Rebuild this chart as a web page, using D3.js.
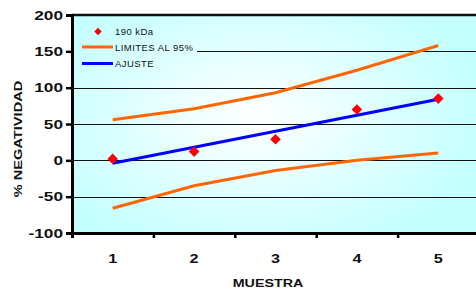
<!DOCTYPE html>
<html><head><meta charset="utf-8">
<script src="https://cdn.jsdelivr.net/npm/d3@7"></script>
<style>html,body{margin:0;padding:0;background:#fff;overflow:hidden}svg{display:block}</style>
</head><body>
<script>
const categories = ["1","2","3","4","5"];
const kda190 = [2, 12, 29, 70, 85];
const ajuste = [-4, 18, 40, 62, 84];
const limSup = [56, 71, 93, 124, 158];
const limInf = [-66, -35, -14, 0, 10];
const yTicks = [-100, -50, 0, 50, 100, 150, 200];
const legendLabels = ["190 kDa", "LIMITES AL 95%", "AJUSTE"];

const W = 476, H = 293;
const L = 72, T = 15, R = 479, B = 233;
const svg = d3.select("body").append("svg").attr("width", W).attr("height", H);

const defs = svg.append("defs");
const g = defs.append("radialGradient").attr("id","bg")
  .attr("gradientUnits","userSpaceOnUse")
  .attr("cx", 255).attr("cy", 118).attr("r", 230)
  .attr("gradientTransform","translate(255,118) scale(1,0.62) translate(-255,-118)");
g.append("stop").attr("offset","0%").attr("stop-color","#ffffff");
g.append("stop").attr("offset","100%").attr("stop-color","#c4ffff");

const x = d3.scaleBand().domain(categories).range([L, R]).padding(0);
const y = d3.scaleLinear().domain([-100, 200]).range([B, T]);
const cx = c => x(c) + x.bandwidth()/2;

svg.append("rect").attr("x", L).attr("y", T).attr("width", R-L).attr("height", B-T).attr("fill","url(#bg)");

// gridlines
svg.append("g").selectAll("line").data(yTicks.filter(v => v > -100 && v < 200)).join("line")
  .attr("x1", L).attr("x2", R).attr("y1", d => Math.round(y(d))+0.5).attr("y2", d => Math.round(y(d))+0.5)
  .attr("stroke", "#111").attr("stroke-width", 1);

// legend box (covers gridline)
svg.append("rect").attr("x", L+2).attr("y", 21).attr("width", 123).attr("height", 50).attr("fill","url(#bg)");

// top border
svg.append("line").attr("x1", L).attr("x2", R).attr("y1", T).attr("y2", T).attr("stroke","#111").attr("stroke-width",2.5);

// axes
const yAxis = d3.axisLeft(y).tickValues(yTicks).tickSize(6).tickFormat("");
const ya = svg.append("g").attr("transform", `translate(${L},0)`).call(yAxis);
ya.select(".domain").attr("stroke","#000").attr("stroke-width",3);
ya.selectAll(".tick line").attr("stroke","#000").attr("stroke-width",2.5);

const xAxis = d3.axisBottom(d3.scaleLinear().domain([0,5]).range([L,R])).tickValues([0,1,2,3,4,5]).tickSize(5).tickFormat("");
const xa = svg.append("g").attr("transform", `translate(0,${B})`).call(xAxis);
xa.select(".domain").attr("stroke","#000").attr("stroke-width",3);
xa.selectAll(".tick line").attr("stroke","#000").attr("stroke-width",2.5);

// tick labels
const font = "'Liberation Sans', Arial, sans-serif";
svg.append("g").selectAll("text").data(yTicks).join("text")
  .attr("transform", d => `translate(63,${y(d)+4.6}) scale(1.38,1)`)
  .attr("text-anchor","end").attr("font-family",font).attr("font-weight","bold").attr("font-size",12.5)
  .attr("fill","#111").text(d => d);
svg.append("g").selectAll("text").data(categories).join("text")
  .attr("transform", d => `translate(${cx(d)},262.5) scale(1.3,1)`)
  .attr("text-anchor","middle").attr("font-family",font).attr("font-weight","bold").attr("font-size",12.5)
  .attr("fill","#111").text(d => d);

svg.append("text").attr("transform","translate(268,287) scale(1.3,1)").attr("text-anchor","middle")
  .attr("font-family",font).attr("font-weight","bold").attr("font-size",11).attr("fill","#111").text("MUESTRA");
svg.append("text").attr("transform","translate(21.5,139) rotate(-90) scale(1.33,1)").attr("text-anchor","middle")
  .attr("font-family",font).attr("font-weight","bold").attr("font-size",11).attr("fill","#111").text("% NEGATIVIDAD");

// series
const line = d3.line().x((d,i) => cx(categories[i])).y(d => y(d));
svg.append("path").datum(limSup).attr("d", line).attr("fill","none").attr("stroke","#ff6600").attr("stroke-width",3);
svg.append("path").datum(limInf).attr("d", line).attr("fill","none").attr("stroke","#ff6600").attr("stroke-width",3);
svg.append("path").datum(ajuste).attr("d", line).attr("fill","none").attr("stroke","#0000ff").attr("stroke-width",3);
const diamond = d3.symbol().type(d3.symbolDiamond2).size(72);
svg.append("g").selectAll("path").data(kda190).join("path")
  .attr("transform",(d,i) => `translate(${cx(categories[i])},${y(d)})`)
  .attr("d", diamond).attr("fill","#ff0000");

// legend
const lg = svg.append("g");
lg.append("path").attr("transform","translate(98,31.5)").attr("d", d3.symbol().type(d3.symbolDiamond2).size(36)).attr("fill","#ff0000");
lg.append("line").attr("x1",82).attr("x2",113).attr("y1",47).attr("y2",47).attr("stroke","#ff6600").attr("stroke-width",3);
lg.append("line").attr("x1",82).attr("x2",113).attr("y1",63.5).attr("y2",63.5).attr("stroke","#0000ff").attr("stroke-width",3);
lg.selectAll("text").data(legendLabels).join("text")
  .attr("x",115).attr("y",(d,i) => [34.7, 51, 67][i])
  .attr("font-family",font).attr("font-size",9.5).attr("letter-spacing",0.45).attr("fill","#111").text(d => d);
</script>
</body></html>
